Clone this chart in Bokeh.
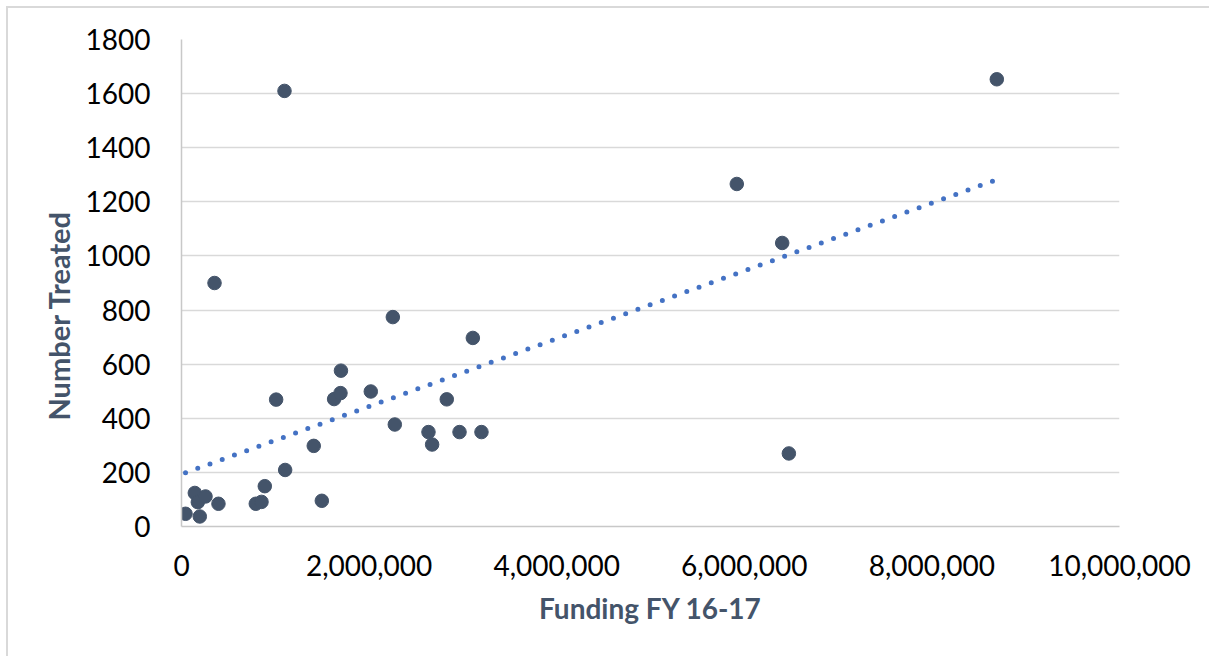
import numpy as np
from bokeh.plotting import figure
from bokeh.models import NumeralTickFormatter, FixedTicker, Range1d, Title
from bokeh.embed import file_html
from bokeh.resources import INLINE

# ---- data ----
funding = [43000, 195000, 142000, 174000, 256000, 394000, 792000, 853000, 888000,
           1009000, 1105000, 1410000, 1496000, 1627000, 1695000, 2018000, 2274000,
           2828000, 2633000, 2672000, 2964000, 3198000, 2253000, 1700000, 3106000,
           352000, 1098000, 5920000, 6404000, 6475000, 8692000]
treated = [47, 37, 124, 90, 111, 84, 84, 91, 149,
           469, 209, 298, 95, 471, 493, 499, 377,
           470, 349, 303, 349, 349, 774, 576, 697,
           900, 1610, 1266, 1048, 270, 1653]
x_ticks = [0, 2000000, 4000000, 6000000, 8000000, 10000000]
y_ticks = [0, 200, 400, 600, 800, 1000, 1200, 1400, 1600, 1800]
x_title = "Funding FY 16-17"
y_title = "Number Treated"

FONT = "Lato"
DOT = "#44546A"
TREND = "#4472C4"
GRID = "#d9d9d9"

W, H = 1203, 650
p = figure(width=W, height=H, output_backend="svg", toolbar_location=None,
           x_range=Range1d(0, 10000000), y_range=Range1d(0, 1800),
           min_border_left=173, min_border_right=W - 1111, min_border_top=31,
           min_border_bottom=H - 518)
p.outline_line_color = None
p.background_fill_color = "white"
p.border_fill_color = "white"

# grid
p.xgrid.grid_line_color = None
p.ygrid.ticker = FixedTicker(ticks=y_ticks)
p.ygrid.grid_line_color = GRID
p.ygrid.grid_line_width = 1.5

# axes
p.xaxis.ticker = FixedTicker(ticks=x_ticks)
p.yaxis.ticker = FixedTicker(ticks=y_ticks)
p.xaxis.formatter = NumeralTickFormatter(format="0,0")
for ax in (p.xaxis, p.yaxis):
    ax.major_tick_line_color = None
    ax.minor_tick_line_color = None
    ax.axis_line_color = "#c8c8c8"
    ax.axis_line_width = 1.5
    ax.major_label_text_font = FONT
    ax.major_label_text_font_size = "28px"
    ax.major_label_text_color = "#000000"
p.yaxis.major_label_standoff = 25
p.xaxis.major_label_standoff = 22

p.xaxis.axis_label = x_title
p.xaxis.axis_label_text_font = FONT
p.xaxis.axis_label_text_font_style = "bold"
p.xaxis.axis_label_text_font_size = "28px"
p.xaxis.axis_label_text_color = DOT
p.xaxis.axis_label_standoff = 12

# y title, placed like the reference (not centred on the frame)
p.add_layout(Title(text=y_title, align="left", offset=106, standoff=14,
                   text_font=FONT, text_font_style="bold",
                   text_font_size="29px", text_color=DOT), "left")

# trendline (least squares on the data)
xs = np.array(funding, dtype=float)
ys = np.array(treated, dtype=float)
m, b = np.polyfit(xs, ys, 1)
tx = [xs.min(), xs.max()]
ty = [m * v + b for v in tx]
p.line(tx, ty, line_color=TREND, line_width=5, line_dash="0 13", line_cap="round")

# points
p.scatter(funding, treated, size=13.5, fill_color=DOT, line_color=DOT)

p.styles = {"margin-left": "6px", "margin-top": "6px",
            "border-left": "2px solid #d9d9d9", "border-top": "2px solid #d9d9d9",
            "border-right": "none", "border-bottom": "none"}

open("out.html", "w").write(file_html(p, INLINE))
